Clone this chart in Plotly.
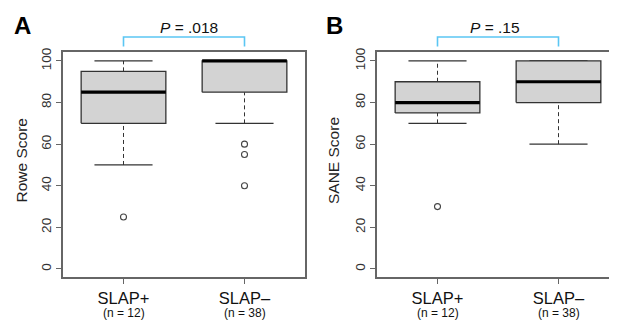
import plotly.graph_objects as go

# ---------------- data ----------------
categories = ["SLAP+", "SLAP\u2013"]
n_labels = ["(n = 12)", "(n = 38)"]

rowe_lower = [50, 70]
rowe_q1 = [70, 85]
rowe_median = [85, 100]
rowe_q3 = [95, 100]
rowe_upper = [100, 100]
rowe_outliers = [[25], [60, 55, 40]]

sane_lower = [70, 60]
sane_q1 = [75, 80]
sane_median = [80, 90]
sane_q3 = [90, 100]
sane_upper = [100, 100]
sane_outliers = [[30], []]

p_texts = ["<i>P</i> = .018", "<i>P</i> = .15"]
panel_letters = ["A", "B"]
y_titles = ["Rowe Score", "SANE Score"]
y_ticks = [0, 20, 40, 60, 80, 100]

# ---------------- style / geometry ----------------
FONT = "Arial, Liberation Sans, sans-serif"
VW, VH = 617, 320          # browser window
OFF = 8                    # default page body margin
W, H = VW - OFF, VH - OFF  # figure size so that it ends at the window edge
BOX_HW = 0.35
CAP_HW = 0.24
FRAME = "#666666"
DARK = "#333333"
BLUE = "#5bc6f3"


def px(xw):  # window x pixel -> paper fraction
    return (xw - OFF) / W


def py(yw):  # window y pixel -> paper fraction
    return 1 - (yw - OFF) / H


fig = go.Figure()

panels = [
    dict(lower=rowe_lower, q1=rowe_q1, med=rowe_median, q3=rowe_q3, upper=rowe_upper, out=rowe_outliers,
         xa="x", ya="y"),
    dict(lower=sane_lower, q1=sane_q1, med=sane_median, q3=sane_q3, upper=sane_upper, out=sane_outliers,
         xa="x2", ya="y2"),
]


def line(xs, ys, xa, ya, color=DARK, width=1.3, dash="solid"):
    fig.add_trace(go.Scatter(x=xs, y=ys, xaxis=xa, yaxis=ya, mode="lines",
                             line=dict(color=color, width=width, dash=dash),
                             hoverinfo="skip", showlegend=False))


for p in panels:
    xa, ya = p["xa"], p["ya"]
    for i in range(len(categories)):
        x = i + 1
        # whiskers
        if p["upper"][i] > p["q3"][i]:
            line([x, x], [p["q3"][i], p["upper"][i]], xa, ya, width=1, dash="4px,3px")
        if p["lower"][i] < p["q1"][i]:
            line([x, x], [p["lower"][i], p["q1"][i]], xa, ya, width=1, dash="4px,3px")
        # caps
        line([x - CAP_HW, x + CAP_HW], [p["upper"][i]] * 2, xa, ya, width=1.3)
        line([x - CAP_HW, x + CAP_HW], [p["lower"][i]] * 2, xa, ya, width=1.3)
        # box
        fig.add_trace(go.Scatter(
            x=[x - BOX_HW, x + BOX_HW, x + BOX_HW, x - BOX_HW, x - BOX_HW],
            y=[p["q1"][i], p["q1"][i], p["q3"][i], p["q3"][i], p["q1"][i]],
            xaxis=xa, yaxis=ya, mode="lines", fill="toself", fillcolor="#d3d3d3",
            line=dict(color=DARK, width=1.3), hoverinfo="skip", showlegend=False))
        # median
        line([x - BOX_HW, x + BOX_HW], [p["med"][i]] * 2, xa, ya, color="#000000", width=3.2)
        # outliers
        if p["out"][i]:
            fig.add_trace(go.Scatter(
                x=[x] * len(p["out"][i]), y=p["out"][i], xaxis=xa, yaxis=ya, mode="markers",
                marker=dict(symbol="circle-open", size=6, color="#444444", line=dict(width=1.1)),
                hoverinfo="skip", showlegend=False))

# ---------------- axes ----------------
px_per_unit = 121.0
domA = [px(63), px(305)]
domB = [px(377), 1.0]
ydom = [py(277), py(52)]
yrange = [-3.85, 104.3]

common_x = dict(tickmode="array", tickvals=[1, 2], ticktext=categories, showgrid=False, zeroline=False,
                showline=True, linecolor=FRAME, linewidth=1.5, mirror=True, automargin=False,
                ticks="outside", ticklen=5, tickcolor=FRAME, tickwidth=1,
                tickfont=dict(family=FONT, size=16.5, color="#111111"), fixedrange=True)
common_y = dict(tickmode="array", tickvals=y_ticks, range=yrange, domain=ydom, showgrid=False,
                zeroline=False, showline=True, linecolor=FRAME, linewidth=1.5, automargin=False,
                ticks="outside", ticklen=5, tickcolor=FRAME, tickwidth=1, tickangle=-90,
                tickfont=dict(family=FONT, size=13.5, color=DARK), fixedrange=True)

fig.update_layout(
    template="none",
    width=W, height=H, margin=dict(l=0, r=0, t=0, b=0),
    paper_bgcolor="white", plot_bgcolor="white",
    font=dict(family=FONT, color="#111111"),
    xaxis=dict(common_x, domain=domA, range=[0.5, 2.5], anchor="y"),
    yaxis=dict(common_y, anchor="x", mirror=True),
    xaxis2=dict(common_x, domain=domB, range=[0.5, 0.5 + (VW - 377) / px_per_unit], anchor="y2"),
    yaxis2=dict(common_y, anchor="x2", mirror=False),
)

# ---------------- titles, n labels, brackets, p-values, panel letters ----------------
title_x = [20.5, 333]
p_shift = [5, -3]
for k, xr in enumerate(["x", "x2"]):
    fig.add_annotation(x=px(title_x[k]), y=py(161), xref="paper", yref="paper", text=y_titles[k],
                       textangle=-90, showarrow=False, font=dict(family=FONT, size=15.5, color="#222222"),
                       xanchor="center", yanchor="middle")
    for i, n in enumerate(n_labels):
        fig.add_annotation(x=i + 1, xref=xr, y=py(313), yref="paper", text=n, showarrow=False,
                           font=dict(family=FONT, size=12, color="#111111"),
                           xanchor="center", yanchor="middle")
    y_top = py(37)
    y_bot = py(46.5)
    fig.add_shape(type="path", xref=xr, yref="paper",
                  path=f"M 1,{y_bot} L 1,{y_top} L 2,{y_top} L 2,{y_bot}",
                  line=dict(color=BLUE, width=1.6))
    fig.add_annotation(x=1.5, xref=xr, xshift=p_shift[k], y=py(27), yref="paper", text=p_texts[k],
                       showarrow=False, font=dict(family=FONT, size=15.5, color="#111111"),
                       xanchor="center", yanchor="middle")

letter_x = [22, 334]
for k, letter in enumerate(panel_letters):
    fig.add_annotation(x=px(letter_x[k]), y=py(25), xref="paper", yref="paper", text=f"<b>{letter}</b>",
                       showarrow=False, font=dict(family=FONT, size=24, color="#000000"),
                       xanchor="center", yanchor="middle")

fig.write_html("out.html")
